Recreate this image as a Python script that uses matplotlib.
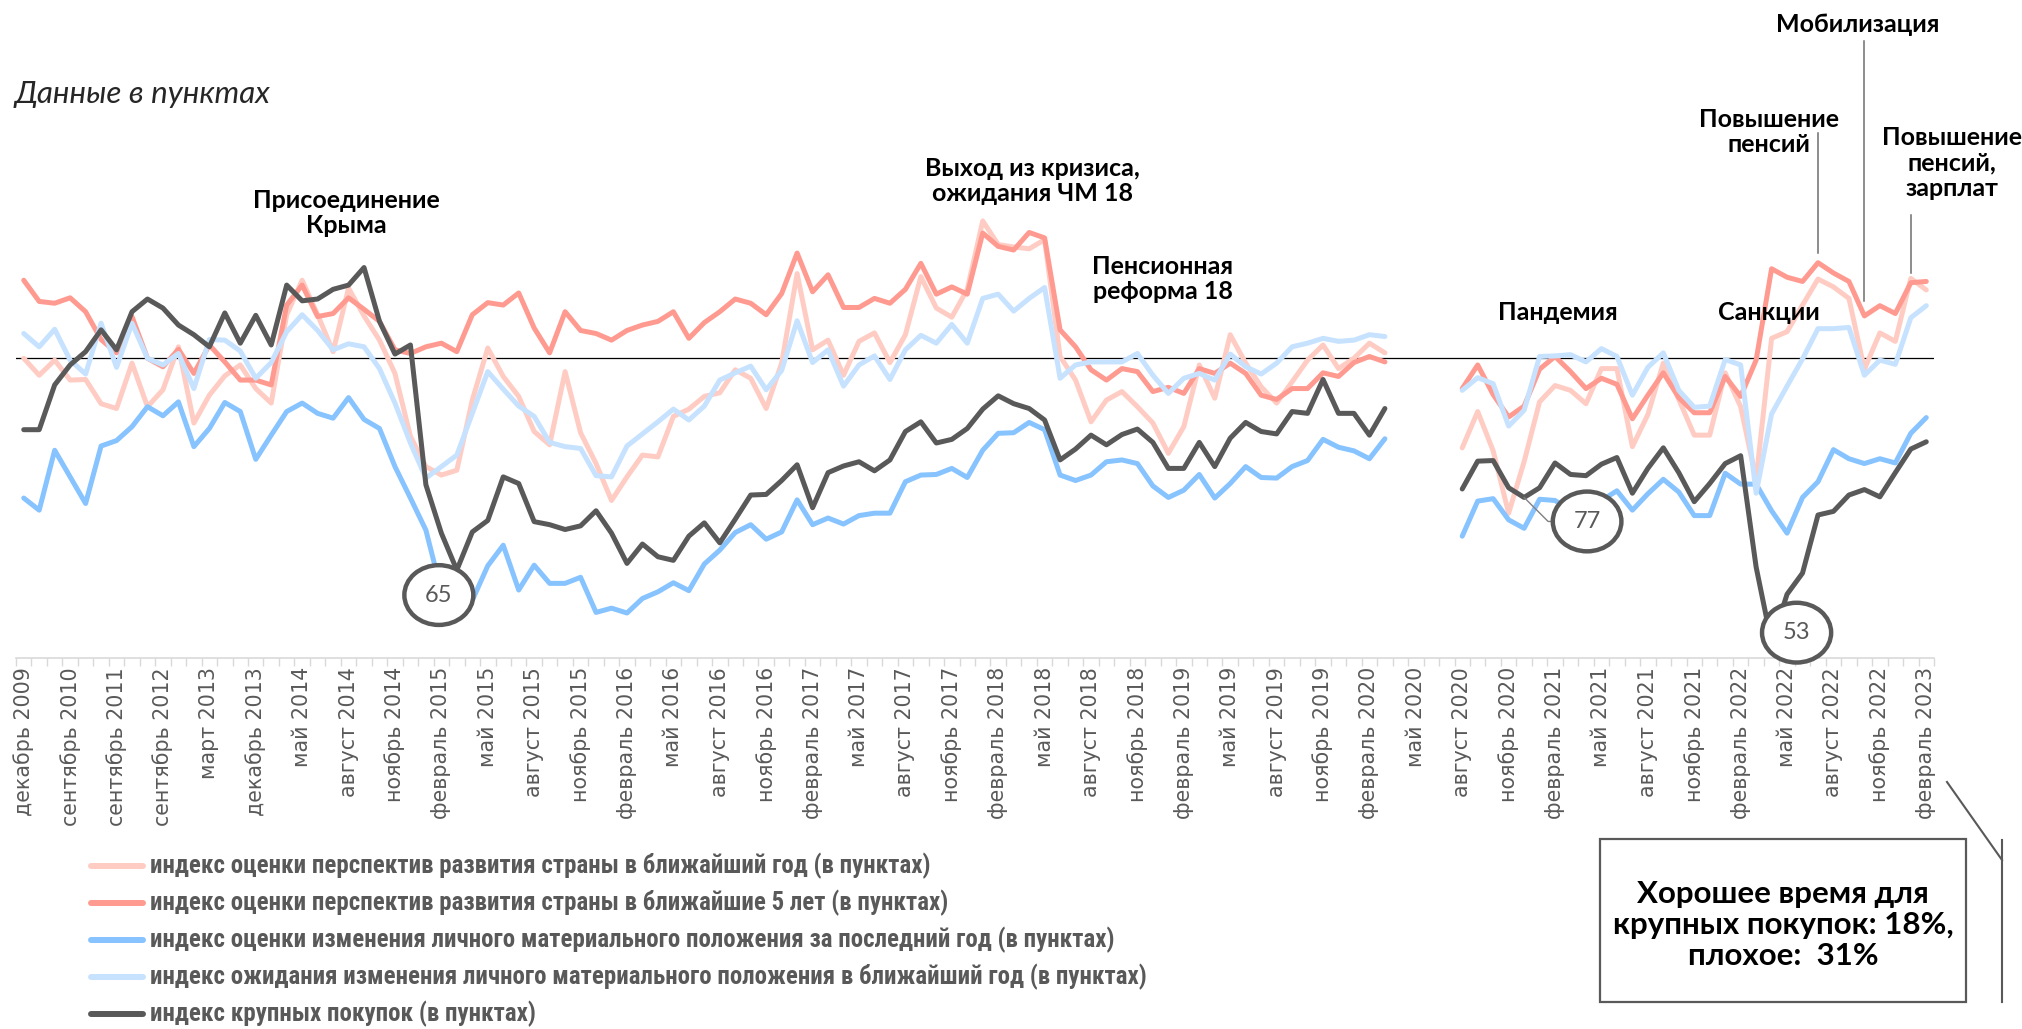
import numpy as np
import matplotlib
matplotlib.use("Agg")
import matplotlib.pyplot as plt
from matplotlib.lines import Line2D
from matplotlib.patches import Rectangle
from matplotlib import font_manager
from matplotlib.font_manager import FontProperties
from matplotlib.textpath import TextPath

W, H, DPI = 2022, 1029, 100

# ---- data (points) ----
tick_labels = [
    "декабрь 2009", "сентябрь 2010", "сентябрь 2011", "сентябрь 2012", "март 2013",
    "декабрь 2013", "май 2014", "август 2014", "ноябрь 2014", "февраль 2015",
    "май 2015", "август 2015", "ноябрь 2015", "февраль 2016", "май 2016",
    "август 2016", "ноябрь 2016", "февраль 2017", "май 2017", "август 2017",
    "ноябрь 2017", "февраль 2018", "май 2018", "август 2018", "ноябрь 2018",
    "февраль 2019", "май 2019", "август 2019", "ноябрь 2019", "февраль 2020",
    "май 2020", "август 2020", "ноябрь 2020", "февраль 2021", "май 2021",
    "август 2021", "ноябрь 2021", "февраль 2022", "май 2022", "август 2022",
    "ноябрь 2022", "февраль 2023",
]
label_step = 3  # one label every 3 survey waves

country_1y = [
    100.0, 97.2, 99.7, 96.4, 96.5, 92.5, 91.7, 99.2, 92.0, 94.8,
    101.9, 89.3, 93.9, 97.1, 98.9, 95.0, 92.6, 107.2, 112.9, 107.2,
    101.1, 111.6, 107.0, 103.0, 97.5, 87.1, 82.1, 80.7, 81.5, 93.1,
    101.7, 97.0, 93.7, 87.9, 85.7, 97.8, 87.7, 82.6, 76.5, 80.4,
    84.0, 83.7, 90.4, 91.6, 93.7, 94.3, 98.1, 96.7, 91.7, 99.2,
    114.0, 101.4, 103.0, 97.2, 102.8, 104.2, 99.3, 103.9, 113.5, 108.3,
    106.8, 111.4, 122.7, 118.8, 118.4, 118.1, 119.6, 100.3, 96.4, 89.5,
    93.1, 94.5, 92.0, 89.3, 84.3, 88.7, 98.9, 93.4, 103.9, 99.2,
    95.3, 92.6, 96.1, 99.7, 102.2, 98.3, 100.0, 102.5, 100.9, None,
    None, None, None, 85.2, 91.2, 84.7, 74.4, 82.9, 92.8, 95.5,
    94.7, 92.5, 98.3, 98.3, 85.4, 90.7, 99.2, 93.2, 87.3, 87.3,
    97.6, 92.0, 80.0, 103.3, 104.4, 108.8, 113.1, 111.8, 109.9, 98.2,
    104.2, 102.8, 113.2, 111.3,
]
country_5y = [
    112.9, 109.4, 109.1, 110.0, 107.7, 103.1, 100.9, 106.9, 100.0, 98.6,
    101.5, 97.5, 102.2, 99.4, 96.4, 96.4, 95.6, 108.8, 112.1, 106.9,
    107.4, 110.0, 108.1, 106.1, 101.4, 100.8, 101.9, 102.5, 101.1, 107.2,
    109.2, 108.8, 110.8, 105.0, 100.9, 107.7, 104.6, 104.1, 103.0, 104.6,
    105.5, 106.1, 107.7, 103.3, 105.9, 107.7, 109.8, 109.1, 107.2, 110.7,
    117.4, 111.0, 113.8, 108.4, 108.4, 109.9, 109.1, 111.4, 115.7, 110.6,
    111.8, 110.6, 120.7, 118.5, 117.9, 120.8, 119.9, 104.7, 101.9, 98.1,
    96.4, 98.3, 97.8, 94.5, 95.2, 94.2, 98.3, 97.5, 99.2, 97.5,
    93.9, 93.2, 95.0, 95.0, 97.6, 97.0, 99.3, 100.3, 99.4, None,
    None, None, None, 95.0, 98.9, 94.0, 90.3, 92.1, 98.2, 100.3,
    97.8, 95.0, 96.7, 95.7, 90.0, 93.9, 97.6, 93.5, 91.0, 91.0,
    97.0, 93.7, 99.7, 114.8, 113.4, 112.7, 115.8, 114.1, 112.7, 107.0,
    108.7, 107.4, 112.5, 112.7,
]
personal_past = [
    76.9, 74.9, 84.8, 80.4, 76.0, 85.5, 86.4, 88.7, 92.0, 90.5,
    92.8, 85.4, 88.4, 92.7, 91.2, 83.3, 87.3, 91.2, 92.6, 90.9,
    90.1, 93.5, 89.9, 88.4, 82.1, 76.9, 71.6, 61.5, 59.5, 60.0,
    65.7, 69.1, 61.7, 65.8, 62.8, 62.8, 63.8, 58.0, 58.7, 57.9,
    60.3, 61.4, 62.9, 61.6, 66.0, 68.3, 71.2, 72.5, 70.1, 71.3,
    76.6, 72.5, 73.6, 72.6, 74.0, 74.4, 74.4, 79.6, 80.7, 80.8,
    81.8, 80.3, 84.8, 87.6, 87.7, 89.4, 88.2, 80.7, 79.8, 80.7,
    82.9, 83.2, 82.6, 78.9, 77.0, 78.2, 80.8, 76.9, 79.3, 82.1,
    80.3, 80.2, 82.1, 83.1, 86.6, 85.3, 84.7, 83.4, 86.7, None,
    None, None, None, 70.6, 76.4, 76.8, 73.3, 71.9, 76.7, 76.5,
    74.8, 75.3, 76.5, 78.1, 74.9, 77.6, 80.0, 77.9, 74.0, 74.0,
    81.0, 79.2, 79.2, 74.8, 71.1, 77.0, 79.6, 84.9, 83.4, 82.6,
    83.4, 82.7, 87.6, 90.2,
]
personal_next = [
    104.1, 101.9, 104.8, 99.7, 97.4, 105.8, 98.5, 105.8, 100.0, 98.9,
    100.8, 95.0, 103.1, 103.0, 101.2, 96.7, 99.3, 104.4, 107.2, 104.6,
    101.4, 102.4, 101.9, 98.3, 92.6, 86.0, 80.2, 82.1, 84.0, 90.9,
    97.8, 94.9, 92.1, 90.4, 86.1, 85.4, 85.1, 80.6, 80.4, 85.5,
    87.5, 89.5, 91.6, 89.8, 92.1, 96.4, 97.6, 98.7, 94.8, 98.0,
    106.2, 99.3, 101.4, 95.4, 98.9, 100.4, 96.5, 101.4, 103.8, 102.5,
    105.6, 102.5, 109.9, 110.6, 107.8, 109.9, 111.7, 96.7, 98.9, 99.4,
    99.4, 99.4, 100.8, 97.2, 94.2, 96.7, 97.5, 96.4, 100.7, 98.6,
    97.4, 99.2, 101.9, 102.5, 103.3, 102.8, 103.0, 103.9, 103.6, None,
    None, None, None, 94.7, 96.8, 95.8, 88.8, 91.4, 100.3, 100.4,
    100.6, 99.4, 101.6, 100.3, 93.9, 98.5, 100.9, 94.7, 91.9, 92.1,
    99.8, 98.9, 77.7, 90.8, 95.4, 99.9, 104.9, 104.9, 105.1, 97.2,
    99.7, 99.0, 106.7, 108.7,
]
big_purchases = [
    88.2, 88.2, 95.6, 98.9, 101.1, 104.7, 101.4, 107.7, 109.8, 108.3,
    105.5, 103.9, 101.9, 107.5, 102.5, 107.1, 102.2, 112.1, 109.5, 109.8,
    111.4, 112.1, 115.0, 106.1, 100.7, 102.2, 79.1, 71.1, 65.0, 71.3,
    73.2, 80.4, 79.3, 73.0, 72.5, 71.7, 72.3, 74.8, 71.1, 66.1,
    69.3, 67.2, 66.6, 70.6, 72.8, 69.5, 73.4, 77.4, 77.5, 79.8,
    82.4, 75.3, 81.1, 82.2, 82.9, 81.4, 83.2, 87.9, 89.5, 86.0,
    86.6, 88.4, 91.6, 93.8, 92.5, 91.7, 89.8, 83.2, 85.0, 87.3,
    85.7, 87.4, 88.3, 86.1, 81.8, 81.8, 86.1, 82.1, 86.8, 89.4,
    87.9, 87.5, 91.2, 90.9, 96.5, 90.9, 90.9, 87.3, 91.7, None,
    None, None, None, 78.4, 83.0, 83.1, 78.6, 77.0, 78.6, 82.7,
    80.8, 80.6, 82.5, 83.6, 77.7, 81.8, 85.2, 81.1, 76.3, 79.3,
    82.6, 83.9, 65.5, 53.0, 61.0, 64.5, 74.1, 74.7, 77.4, 78.3,
    77.1, 81.1, 85.0, 86.2,
]

series_labels = [
    "индекс оценки перспектив развития страны в ближайший год (в пунктах)",
    "индекс оценки перспектив развития страны в ближайшие 5 лет (в пунктах)",
    "индекс оценки изменения личного материального положения за последний год (в пунктах)",
    "индекс ожидания изменения личного материального положения в ближайший год (в пунктах)",
    "индекс крупных покупок (в пунктах)",
]
series_colors = ["#FFCCC4", "#FF9A90", "#87C3FF", "#C6E2FF", "#595959"]

events = [
    ("Присоединение\nКрыма", 346, 213),
    ("Выход из кризиса,\nожидания ЧМ 18", 1032, 181),
    ("Пенсионная\nреформа 18", 1163, 279),
    ("Пандемия", 1558, 313),
    ("Санкции", 1769, 313),
    ("Повышение\nпенсий", 1769, 132),
    ("Мобилизация", 1858, 24),
    ("Повышение\nпенсий,\nзарплат", 1952, 163),
]

BOLD_FONT = ["Lato", "Noto Sans", "DejaVu Sans"]
GRAY = "#595959"


def to_array(vals):
    return np.array([np.nan if v is None else v for v in vals], dtype=float)


def fx(px):
    return px / W


def fy(py):
    return 1 - py / H


# value scale: 100 sits at y=358 px, 6.05 px per point
def val_at(py):
    return 100 + (358.3 - py) / 6.05


def narrow_bold_file():
    # the legend uses a narrow bold face; take the best one that is installed
    prefs = ["Liberation Sans Narrow", "Roboto Condensed", "Noto Sans Condensed",
             "DejaVu Sans Condensed", "Condensed", "Narrow"]
    found = {}
    for f in font_manager.fontManager.ttflist:
        w = f.weight if isinstance(f.weight, int) else {"bold": 700}.get(f.weight, 400)
        tag = f.name + " " + f.fname.split("/")[-1]
        if w != 700 or "Italic" in tag or "Oblique" in tag:
            continue
        if "Semi" in tag or "Extra" in tag:
            continue
        for rank, key in enumerate(prefs):
            if key in tag or key.replace(" ", "") in tag:
                found.setdefault(rank, f.fname)
                break
    return found[min(found)] if found else None


fig = plt.figure(figsize=(W / DPI, H / DPI), dpi=DPI)
ax = fig.add_axes([fx(16), fy(658), fx(1934 - 16), (658 - 207) / H])

all_series = [country_1y, country_5y, personal_past, personal_next, big_purchases]
x = np.arange(len(big_purchases))
for vals, col, lab in zip(all_series, series_colors, series_labels):
    ax.plot(x, to_array(vals), color=col, lw=3.6, label=lab,
            solid_joinstyle="round", solid_capstyle="round", zorder=3)

ax.axhline(100, color="black", lw=0.9, zorder=2)

ax.set_xlim(-0.5, len(x) - 0.5)
ax.set_ylim(val_at(658), val_at(207))
ax.set_yticks([])
for side in ["top", "right", "left"]:
    ax.spines[side].set_visible(False)
ax.spines["bottom"].set_color("#D9D9D9")
ax.spines["bottom"].set_linewidth(1.2)

ax.set_xticks(x[::label_step])
ax.set_xticklabels(tick_labels, rotation=90, fontsize=14.8, color=GRAY,
                   family="DejaVu Sans")
ax.set_xticks(np.arange(-0.5, len(x), 1), minor=True)
ax.tick_params(axis="x", which="major", length=0, pad=6.5)
ax.tick_params(axis="x", which="minor", length=5.5, width=1.0, color="#D9D9D9")

# circled values
circ = dict(boxstyle="ellipse,pad=0.45", fc="white", ec=GRAY, lw=3.2)
bp = to_array(big_purchases)
ax.annotate("65", xy=(28, bp[28]), xytext=(-18, -25), textcoords="offset pixels",
            ha="center", va="center", fontsize=17, color=GRAY, family=BOLD_FONT,
            bbox=circ, zorder=10, annotation_clip=False)
ax.annotate("53", xy=(113, bp[113]), xytext=(25, 10), textcoords="offset pixels",
            ha="center", va="center", fontsize=17, color=GRAY, family=BOLD_FONT,
            bbox=circ, zorder=10, annotation_clip=False)
ax.annotate("77", xy=(97, bp[97]), xytext=(63, -24), textcoords="offset pixels",
            ha="center", va="center", fontsize=17, color=GRAY, family=BOLD_FONT,
            bbox=circ, zorder=10, annotation_clip=False,
            arrowprops=dict(arrowstyle="-", color="#808080", lw=1.0,
                            connectionstyle="angle,angleA=0,angleB=-45,rad=0",
                            shrinkA=0, shrinkB=0))

# leader lines from the event labels down to the curves
for idx, top_px, bot_px in [(116, 133, 253), (119, 41, 301), (122, 215, 273)]:
    ax.plot([idx, idx], [val_at(top_px), val_at(bot_px)], color="#6E6E6E",
            lw=1.1, clip_on=False, zorder=4)

for txt, px, py in events:
    fig.text(fx(px), fy(py), txt, ha="center", va="center", fontsize=18,
             weight="bold", family=BOLD_FONT, color="black", linespacing=1.15)

fig.text(fx(15), fy(94), "Данные в пунктах", ha="left", va="center",
         fontsize=22.6, style="italic", family=BOLD_FONT, color="#262626")

# legend, laid out by hand: handle 88-146 px, text from 150 px
narrow = narrow_bold_file()
if narrow:
    leg_font = FontProperties(fname=narrow, size=18)
else:
    leg_font = FontProperties(family="DejaVu Sans", weight="bold", size=18)
first_w = TextPath((0, 0), series_labels[0], prop=leg_font).get_extents().width * DPI / 72
leg_font.set_size(min(19.5, 18 * 775 / first_w))

for k, (lab, col) in enumerate(zip(series_labels, series_colors)):
    row_y = 866 + 37 * k
    fig.add_artist(Line2D([fx(91), fx(143)], [fy(row_y), fy(row_y)],
                          transform=fig.transFigure, color=col, lw=4.3,
                          solid_capstyle="round"))
    fig.text(fx(150), fy(row_y), lab, ha="left", va="center",
             fontproperties=leg_font, color=GRAY)

# note box
fig.add_artist(Rectangle((fx(1600), fy(1002)), (1966 - 1600) / W, (1002 - 839) / H,
                         transform=fig.transFigure, fill=False, ec=GRAY, lw=1.6))
fig.text(fx(1783), fy(925), "Хорошее время для\nкрупных покупок: 18%,\nплохое:  31%",
         ha="center", va="center", fontsize=22.5, weight="bold", family=BOLD_FONT,
         color="black", linespacing=1.15)
fig.add_artist(Line2D([fx(1947), fx(2002)], [fy(782), fy(860)],
                      transform=fig.transFigure, color=GRAY, lw=1.5))
fig.add_artist(Line2D([fx(2002), fx(2002)], [fy(840), fy(1002)],
                      transform=fig.transFigure, color=GRAY, lw=1.5))

fig.savefig("out.png", dpi=DPI)
